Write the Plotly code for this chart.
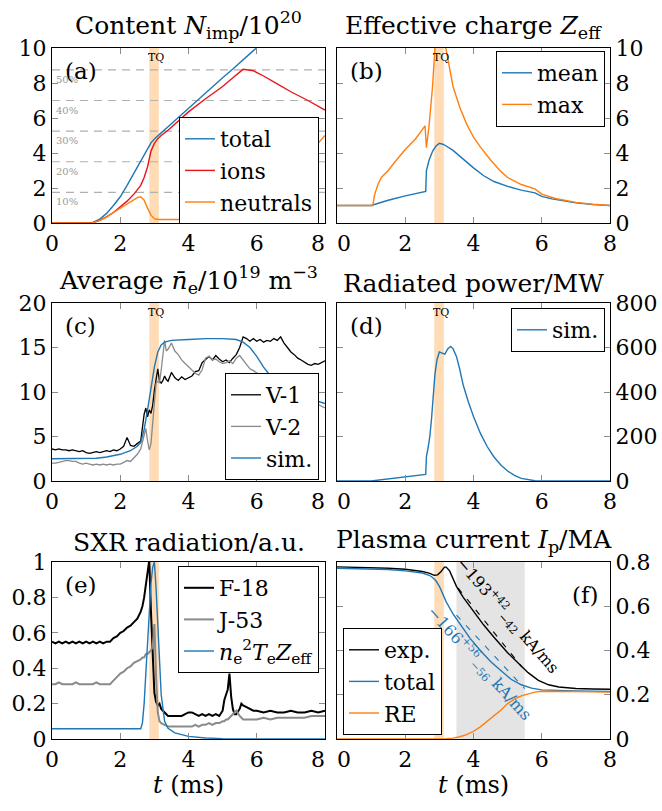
import plotly.graph_objects as go

FONT = "DejaVu Serif"
BLUE = "#1f77b4"
ORANGE = "#ff7f0e"
RED = "#e8141c"
GRAY = "#8a8a8a"
BLACK = "#000000"
TQ_COLOR = "#ffdcb6"
BAND_GRAY = "#e4e4e4"
TICK_GRAY = "#8c8c8c"
NB = "\u00a0"

# ---------------- (a) impurity content ----------------
t_a = [0, 1.0, 1.2, 1.4, 1.6, 1.8, 2.0, 2.2, 2.4, 2.5, 2.6, 2.7, 2.8, 2.9, 3.0,
       3.1, 3.2, 3.4, 3.6, 4.0, 4.5, 5.0, 5.3, 5.6, 5.9, 6.2, 6.6, 7.0, 7.5, 8.0]
total_a = [0, 0, 0.03, 0.22, 0.55, 1.0, 1.5, 2.15, 2.85, 3.25, 3.6, 3.95, 4.3, 4.58, 4.8,
           5.0, 5.15, 5.5, 5.85, 6.6, 7.45, 8.3, 8.8, 9.35, 9.85, 10.35, 11.0, 11.6, 12.3, 13.0]
ions_a = [0, 0, 0.02, 0.15, 0.35, 0.6, 0.9, 1.25, 1.65, 1.9, 2.15, 2.6, 3.2, 4.1, 4.55,
          4.82, 5.0, 5.3, 5.65, 6.35, 7.1, 7.8, 8.3, 8.78, 8.7, 8.4, 7.95, 7.5, 7.0, 6.45]
neutrals_a = [0, 0, 0.02, 0.15, 0.35, 0.6, 0.85, 1.1, 1.35, 1.45, 1.5, 1.3, 0.85, 0.45, 0.25,
              0.2, 0.2, 0.2, 0.2, 0.2, 0.25, 0.35, 0.45, 0.6, 0.9, 1.3, 2.1, 2.9, 3.9, 5.0]
pct_values = [1.75, 3.5, 5.25, 7.0, 8.75]
pct_labels = ["10%", "20%", "30%", "40%", "50%"]

# ---------------- (b) effective charge ----------------
t_b_mean = [0, 1.0, 1.5, 2.0, 2.6, 2.62, 2.7, 2.8, 2.9, 3.0, 3.1, 3.2, 3.4, 3.6, 3.8,
            4.0, 4.3, 4.6, 5.0, 5.4, 5.8, 6.0, 6.3, 6.6, 7.0, 7.5, 8.0]
zeff_mean = [1.0, 1.0, 1.3, 1.55, 1.8, 3.0, 3.6, 4.1, 4.4, 4.55, 4.5, 4.4, 4.15, 3.8, 3.45,
             3.15, 2.7, 2.37, 2.09, 1.88, 1.72, 1.52, 1.38, 1.27, 1.15, 1.05, 1.0]
t_b_max = [0, 1.05, 1.1, 1.2, 1.3, 1.5, 1.7, 2.0, 2.3, 2.58, 2.62, 2.7, 2.8, 2.87, 2.95,
           3.05, 3.15, 3.25, 3.4, 3.6, 3.8, 4.0, 4.2, 4.5, 4.8, 5.0, 5.4, 5.8, 6.0, 6.4,
           7.0, 7.5, 8.0]
zeff_max = [1.0, 1.0, 1.6, 2.2, 2.6, 3.0, 3.5, 4.2, 4.8, 5.55, 4.3, 5.6, 7.8, 10.0, 11.0,
            11.0, 10.4, 9.3, 7.8, 6.6, 5.65, 4.9, 4.35, 3.6, 2.95, 2.6, 2.2, 1.95, 1.65, 1.4,
            1.18, 1.07, 1.0]

# ---------------- (c) line-averaged density ----------------
t_v = [0.0, 0.1, 0.2, 0.3, 0.4, 0.5, 0.6, 0.7, 0.8, 0.9, 1.0, 1.1, 1.2, 1.3, 1.4, 1.5,
       1.6, 1.7, 1.8, 1.9, 2.0, 2.1, 2.2, 2.3, 2.4, 2.5, 2.6, 2.7, 2.75, 2.8, 2.85, 2.9,
       2.95, 3.0, 3.05, 3.1, 3.15, 3.2, 3.25, 3.3, 3.35, 3.4, 3.5, 3.6, 3.7, 3.8, 3.9,
       4.0, 4.1, 4.2, 4.3, 4.4, 4.5, 4.6, 4.7, 4.8, 4.9, 5.0, 5.1, 5.2, 5.3, 5.4, 5.5,
       5.6, 5.7, 5.8, 5.9, 6.0, 6.1, 6.2, 6.3, 6.4, 6.5, 6.6, 6.7, 6.8, 6.9, 7.0, 7.1,
       7.2, 7.3, 7.4, 7.5, 7.6, 7.7, 7.8, 7.9, 8.0]
ne_v1 = [3.6, 3.5, 3.6, 3.5, 3.5, 3.4, 3.5, 3.4, 3.3, 3.4, 3.2, 3.1, 3.2, 3.3, 3.2, 3.3,
         3.4, 3.3, 3.5, 3.4, 3.6, 3.9, 4.9, 4.0, 3.9, 4.2, 4.5, 7.5, 8.2, 7.2, 8.0, 7.6,
         8.5, 10.2, 11.4, 12.6, 11.2, 11.0, 11.3, 11.8, 11.4, 11.2, 12.2, 11.6, 11.3, 11.7, 11.4,
         11.6, 11.8, 12.3, 12.4, 13.3, 13.6, 14.0, 13.6, 14.1, 13.7, 13.4, 13.6, 13.3, 13.8, 14.2, 15.0,
         16.2, 16.0, 15.7, 16.0, 15.7, 15.9, 15.6, 15.8, 15.7, 16.0, 15.8, 16.2, 15.5, 15.0, 14.5, 14.2,
         13.8, 13.6, 13.3, 13.1, 13.0, 13.2, 13.1, 13.3, 13.5]
ne_v2 = [2.0, 2.0, 2.1, 2.2, 2.3, 2.3, 2.2, 2.2, 2.0, 1.9, 2.0, 1.9, 1.8, 1.9, 1.8, 1.9,
         1.8, 1.9, 1.8, 1.9, 1.9, 2.1, 2.3, 2.2, 2.6, 3.0, 3.6, 5.2, 5.9, 4.5, 3.5, 4.2,
         6.5, 9.0, 11.0, 11.2, 11.0, 12.5, 14.0, 15.8, 14.6, 14.8, 15.5, 14.6, 14.2, 13.6, 13.2,
         12.8, 12.4, 12.1, 11.9, 12.5, 13.8, 14.0, 13.6, 13.7, 13.4, 13.2, 13.3, 13.5, 13.2, 13.8, 14.1,
         13.6, 13.0, 12.6, 12.4, 12.1, 11.9, 11.8, 11.6, 11.5, 11.3, 11.1, 10.9, 10.7, 10.6, 10.4, 10.2,
         10.0, 9.8, 9.6, 9.4, 9.1, 8.9, 8.6, 8.4, 8.2]
t_ne_sim = [0, 1.0, 1.3, 1.6, 2.0, 2.3, 2.5, 2.6, 2.7, 2.8, 2.9, 3.0, 3.1, 3.2, 3.3,
            3.5, 4.0, 4.5, 5.0, 5.4, 5.6, 5.8, 6.0, 6.2, 6.4, 6.6, 7.0, 7.5, 8.0]
ne_sim = [2.5, 2.5, 2.55, 2.7, 3.0, 3.4, 3.9, 4.3, 5.8, 8.0, 10.5, 12.8, 14.5, 15.3, 15.6,
          15.8, 15.9, 16.0, 16.0, 15.9, 15.6, 15.0, 14.0, 12.8, 11.8, 11.0, 10.0, 9.3, 8.7]

# ---------------- (d) radiated power ----------------
t_d = [0, 1.0, 2.6, 2.62, 2.67, 2.72, 2.77, 2.82, 2.87, 2.93, 3.0, 3.08, 3.16, 3.25, 3.33,
       3.4, 3.5, 3.6, 3.7, 3.85, 4.0, 4.2, 4.4, 4.6, 4.8, 5.0, 5.2, 5.4, 5.6, 5.8, 6.0, 8.0]
prad = [0, 0, 30, 110, 150, 200, 280, 400, 480, 545, 580, 575, 570, 595, 605,
        595, 560, 500, 430, 355, 290, 215, 155, 108, 72, 45, 25, 12, 5, 1, 0, 0]

# ---------------- (e) SXR ----------------
t_sxr = [0.0, 0.1, 0.2, 0.3, 0.4, 0.5, 0.6, 0.7, 0.8, 0.9, 1.0, 1.1, 1.2, 1.3, 1.4, 1.5,
         1.6, 1.7, 1.8, 1.9, 2.0, 2.1, 2.2, 2.3, 2.4, 2.5, 2.6, 2.65, 2.7, 2.75, 2.8, 2.85,
         2.9, 2.95, 3.0, 3.05, 3.1, 3.15, 3.2, 3.3, 3.4, 3.5, 3.6, 3.7, 3.8, 3.9, 4.0, 4.1,
         4.2, 4.3, 4.4, 4.5, 4.6, 4.7, 4.8, 4.9, 5.0, 5.05, 5.1, 5.15, 5.2, 5.25, 5.3, 5.35,
         5.4, 5.5, 5.55, 5.6, 5.7, 5.8, 5.9, 6.0, 6.2, 6.4, 6.6, 6.8, 7.0, 7.2, 7.4, 7.6,
         7.8, 8.0]
sxr_f18 = [0.55, 0.54, 0.55, 0.54, 0.55, 0.54, 0.55, 0.54, 0.55, 0.54, 0.55, 0.54, 0.55, 0.54, 0.55, 0.54,
           0.55, 0.55, 0.57, 0.58, 0.60, 0.61, 0.63, 0.64, 0.66, 0.68, 0.72, 0.75, 0.80, 0.88, 0.96, 1.01,
           0.72, 0.45, 0.26, 0.21, 0.19, 0.20, 0.17, 0.15, 0.13, 0.13, 0.13, 0.13, 0.13, 0.14, 0.15, 0.15,
           0.14, 0.13, 0.14, 0.13, 0.14, 0.13, 0.14, 0.13, 0.16, 0.22, 0.25, 0.28, 0.37, 0.24, 0.17, 0.14,
           0.14, 0.17, 0.20, 0.19, 0.18, 0.17, 0.16, 0.16, 0.15, 0.16, 0.15, 0.15, 0.16, 0.15, 0.15, 0.16,
           0.15, 0.16]
sxr_j53 = [0.31, 0.31, 0.32, 0.31, 0.31, 0.31, 0.31, 0.32, 0.31, 0.31, 0.31, 0.31, 0.31, 0.32, 0.31, 0.31,
           0.31, 0.31, 0.33, 0.35, 0.37, 0.38, 0.40, 0.41, 0.43, 0.44, 0.45, 0.46, 0.46, 0.48, 0.48, 0.49,
           0.50, 0.52, 0.65, 0.35, 0.15, 0.10, 0.09, 0.08, 0.07, 0.07, 0.07, 0.07, 0.07, 0.07, 0.07, 0.07,
           0.08, 0.07, 0.08, 0.08, 0.09, 0.08, 0.09, 0.09, 0.10, 0.10, 0.11, 0.11, 0.12, 0.13, 0.14, 0.15,
           0.16, 0.13, 0.12, 0.11, 0.11, 0.11, 0.11, 0.11, 0.12, 0.11, 0.12, 0.12, 0.12, 0.12, 0.12, 0.13,
           0.13, 0.13]
t_sxr_sim = [0, 2.6, 2.65, 2.7, 2.75, 2.8, 2.85, 2.9, 2.95, 3.0, 3.05, 3.1, 3.15, 3.2, 3.3,
             3.4, 3.6, 4.0, 4.5, 5.0, 6.0, 8.0]
sxr_sim = [0.058, 0.058, 0.09, 0.2, 0.37, 0.55, 0.72, 0.88, 0.97, 1.0, 0.85, 0.62, 0.42, 0.25, 0.10,
           0.06, 0.035, 0.015, 0.006, 0.002, 0, 0]

# ---------------- (f) plasma current ----------------
t_exp = [0, 0.5, 1.0, 1.5, 2.0, 2.3, 2.5, 2.7, 2.85, 2.95, 3.05, 3.15, 3.2, 3.3, 3.4,
         3.5, 3.7, 4.0, 4.3, 4.6, 5.0, 5.3, 5.6, 5.9, 6.2, 6.5, 7.0, 7.5, 8.0]
ip_exp = [0.778, 0.777, 0.775, 0.772, 0.767, 0.762, 0.757, 0.75, 0.74, 0.742, 0.757, 0.777, 0.777, 0.76, 0.725,
          0.69, 0.64, 0.575, 0.515, 0.46, 0.39, 0.345, 0.30, 0.265, 0.245, 0.235, 0.228, 0.226, 0.225]
t_tot = [0, 0.5, 1.0, 1.5, 2.0, 2.3, 2.5, 2.7, 2.8, 2.9, 3.0, 3.1, 3.2, 3.4, 3.6,
         3.9, 4.2, 4.5, 4.8, 5.1, 5.4, 5.7, 6.0, 6.5, 7.0, 8.0]
ip_tot = [0.772, 0.771, 0.769, 0.766, 0.760, 0.755, 0.75, 0.74, 0.73, 0.715, 0.69, 0.655, 0.62, 0.565, 0.52,
          0.455, 0.40, 0.35, 0.31, 0.27, 0.245, 0.23, 0.222, 0.219, 0.217, 0.215]
t_re = [0, 3.0, 3.2, 3.4, 3.6, 3.8, 4.0, 4.2, 4.4, 4.6, 4.8, 5.0, 5.2, 5.4, 5.6,
        5.8, 6.0, 6.5, 7.0, 8.0]
ip_re = [0, 0, 0.001, 0.004, 0.01, 0.02, 0.035, 0.055, 0.08, 0.105, 0.13, 0.16, 0.18, 0.195, 0.205,
         0.212, 0.216, 0.216, 0.215, 0.212]
fit_exp_t = [3.55, 5.42]
fit_exp_i = [0.682, 0.325]
fit_tot_t = [3.5, 5.5]
fit_tot_i = [0.56, 0.228]

tq_window = [2.85, 3.13]
cq_window = [3.5, 5.5]

x_ticks = [0, 2, 4, 6, 8]
x_ticktext_left = ["0", "2", "4", "6", "8" + NB + NB]
x_ticktext_right = [NB + NB + "0", "2", "4", "6", "8"]

# ---------------- layout geometry ----------------
W, H = 662, 811
xl = [52 / W, 325 / W]
xr = [337 / W, 610 / W]
rows = [(1 - 223 / H, 1 - 48 / H), (1 - 481 / H, 1 - 303 / H), (1 - 739 / H, 1 - 562 / H)]

fig = go.Figure()

def line(x, y, color, name, ax, legend, width=1.4, show=True, dash=None):
    fig.add_trace(go.Scatter(x=x, y=y, mode="lines", name=name,
                             line=dict(color=color, width=width, dash=dash),
                             xaxis="x" + ax, yaxis="y" + ax, legend=legend,
                             showlegend=show))

line(t_a, total_a, BLUE, "total", "", "legend")
line(t_a, ions_a, RED, "ions", "", "legend")
line(t_a, neutrals_a, ORANGE, "neutrals", "", "legend")
line(t_b_mean, zeff_mean, BLUE, "mean", "2", "legend2")
line(t_b_max, zeff_max, ORANGE, "max", "2", "legend2")
line(t_v, ne_v1, BLACK, "V-1", "3", "legend3", width=1.3)
line(t_v, ne_v2, GRAY, "V-2", "3", "legend3", width=1.3)
line(t_ne_sim, ne_sim, BLUE, "sim.", "3", "legend3")
line(t_d, prad, BLUE, "sim.", "4", "legend4")
line(t_sxr, sxr_f18, BLACK, "F-18", "5", "legend5", width=2.0)
line(t_sxr, sxr_j53, GRAY, "J-53", "5", "legend5", width=2.0)
line(t_sxr_sim, sxr_sim, BLUE,
     "<i>n</i><sub>e</sub><sup>2</sup><i>T</i><sub>e</sub><i>Z</i><sub>eff</sub>", "5", "legend5")
line(t_exp, ip_exp, BLACK, "exp.", "6", "legend6")
line(t_tot, ip_tot, BLUE, "total", "6", "legend6")
line(t_re, ip_re, ORANGE, "RE", "6", "legend6")
line(fit_exp_t, fit_exp_i, BLACK, "fit exp", "6", "legend6", width=1.1, show=False, dash="6px,8px")
line(fit_tot_t, fit_tot_i, BLUE, "fit tot", "6", "legend6", width=1.1, show=False, dash="6px,8px")

layout = dict(width=W, height=H, margin=dict(l=0, r=0, t=0, b=0, autoexpand=False),
              paper_bgcolor="white", plot_bgcolor="white",
              font=dict(family=FONT, size=22, color="black"))

yranges = [[0, 10], [0, 10], [0, 20], [0, 800], [0, 1], [0, 0.8]]
ytickvals = [[0, 2, 4, 6, 8, 10], [0, 2, 4, 6, 8, 10], [0, 5, 10, 15, 20],
             [0, 200, 400, 600, 800], [0, 0.2, 0.4, 0.6, 0.8, 1], [0, 0.2, 0.4, 0.6, 0.8]]
yticktext = [None, None, None, None, ["0", "0.2", "0.4", "0.6", "0.8", "1"],
             ["0", "0.2", "0.4", "0.6", "0.8"]]

for i in range(6):
    suf = "" if i == 0 else str(i + 1)
    col = i % 2
    row = i // 2
    xd = xl if col == 0 else xr
    yd = rows[row]
    ax_common = dict(showline=True, linecolor="black", linewidth=1.2, mirror="ticks",
                     ticks="inside", ticklen=6, tickcolor=TICK_GRAY, tickwidth=1,
                     showgrid=False, zeroline=False, automargin=False,
                     tickfont=dict(family=FONT, size=22))
    layout["xaxis" + suf] = dict(domain=xd, range=[0, 8], tickvals=x_ticks,
                                 ticktext=x_ticktext_left if col == 0 else x_ticktext_right,
                                 anchor="y" + suf, **ax_common)
    ydict = dict(domain=list(yd), range=yranges[i], tickvals=ytickvals[i],
                 anchor="x" + suf, side="left" if col == 0 else "right", **ax_common)
    if yticktext[i] is not None:
        ydict["ticktext"] = yticktext[i]
    if col == 0:
        ydict["ticksuffix"] = "\u2009"
    else:
        ydict["tickprefix"] = NB
    layout["yaxis" + suf] = ydict

leg_common = dict(bgcolor="white", bordercolor="black", borderwidth=1,
                  font=dict(family=FONT, size=22), tracegroupgap=0)
layout["legend"] = dict(x=319 / W, y=1 - 117 / H, xanchor="right", yanchor="top", **leg_common)
layout["legend2"] = dict(x=605 / W, y=1 - 51 / H, xanchor="right", yanchor="top", **leg_common)
layout["legend3"] = dict(x=319 / W, y=1 - 373 / H, xanchor="right", yanchor="top", **leg_common)
layout["legend4"] = dict(x=605 / W, y=1 - 308 / H, xanchor="right", yanchor="top", **leg_common)
layout["legend5"] = dict(x=319 / W, y=1 - 566 / H, xanchor="right", yanchor="top", **leg_common)
layout["legend6"] = dict(x=343 / W, y=1 - 735 / H, xanchor="left", yanchor="bottom", **leg_common)

shapes = []
for suf in ["", "2", "3", "4", "5", "6"]:
    shapes.append(dict(type="rect", xref="x" + suf, yref="y" + suf + " domain",
                       x0=tq_window[0], x1=tq_window[1], y0=0, y1=1,
                       fillcolor=TQ_COLOR, line=dict(width=0), layer="below"))
shapes.append(dict(type="rect", xref="x6", yref="y6 domain", x0=cq_window[0], x1=cq_window[1],
                   y0=0, y1=1, fillcolor=BAND_GRAY, line=dict(width=0), layer="below"))
for v in pct_values:
    shapes.append(dict(type="line", xref="x", yref="y", x0=0, x1=8, y0=v, y1=v,
                       line=dict(color="#b0b0b0", width=1.1, dash="8px,6px"), layer="below"))
layout["shapes"] = shapes

ann = []
titles = ["Content <i>N</i><sub>imp</sub>/10<sup>20</sup>",
          "Effective charge <i>Z</i><sub>eff</sub>",
          "Average <i>n̄</i><sub>e</sub>/10<sup>19</sup> m<sup>−3</sup>",
          "Radiated power/MW",
          "SXR radiation/a.u.",
          "Plasma current <i>I</i><sub>p</sub>/MA"]
for i, ttl in enumerate(titles):
    col = i % 2
    row = i // 2
    xd = xl if col == 0 else xr
    ann.append(dict(text=ttl, xref="paper", yref="paper", x=(xd[0] + xd[1]) / 2, y=rows[row][1],
                    xanchor="center", yanchor="bottom", yshift=3, showarrow=False,
                    font=dict(family=FONT, size=25)))
labels = ["(a)", "(b)", "(c)", "(d)", "(e)"]
for i, lab in enumerate(labels):
    suf = "" if i == 0 else str(i + 1)
    ann.append(dict(text=lab, xref="x" + suf + " domain", yref="y" + suf + " domain",
                    x=0.04, y=0.955, xanchor="left", yanchor="top", showarrow=False,
                    font=dict(family=FONT, size=23)))
ann.append(dict(text="(f)", xref="x6 domain", yref="y6 domain", x=0.965, y=0.9,
                xanchor="right", yanchor="top", showarrow=False, font=dict(family=FONT, size=23)))
for suf in ["", "2", "3", "4"]:
    ann.append(dict(text="TQ", xref="x" + suf, yref="y" + suf + " domain",
                    x=(tq_window[0] + tq_window[1]) / 2 + 0.05, y=0.995, xanchor="center",
                    yanchor="top", showarrow=False, font=dict(family=FONT, size=11)))
for v, lab in zip(pct_values, pct_labels):
    ann.append(dict(text=lab, xref="x", yref="y", x=0.06, y=v - 0.12, xanchor="left",
                    yanchor="top", showarrow=False, font=dict(family=FONT, size=10, color="#9a9a9a")))
ann.append(dict(text="−193<sup>+42</sup><sub>−42</sub> kA/ms", xref="x6", yref="y6",
                x=5.0, y=0.56, textangle=49, showarrow=False,
                font=dict(family=FONT, size=16, color=BLACK)))
ann.append(dict(text="−166<sup>+56</sup><sub>−56</sub> kA/ms", xref="x6", yref="y6",
                x=4.17, y=0.34, textangle=48, showarrow=False,
                font=dict(family=FONT, size=16, color=BLUE)))
for xd in [xl, xr]:
    ann.append(dict(text="<i>t</i> (ms)", xref="paper", yref="paper", x=(xd[0] + xd[1]) / 2,
                    y=1 - 785 / H, xanchor="center", yanchor="middle", showarrow=False,
                    font=dict(family=FONT, size=24)))
layout["annotations"] = ann

fig.update_layout(**layout)
fig.write_html("out.html")
